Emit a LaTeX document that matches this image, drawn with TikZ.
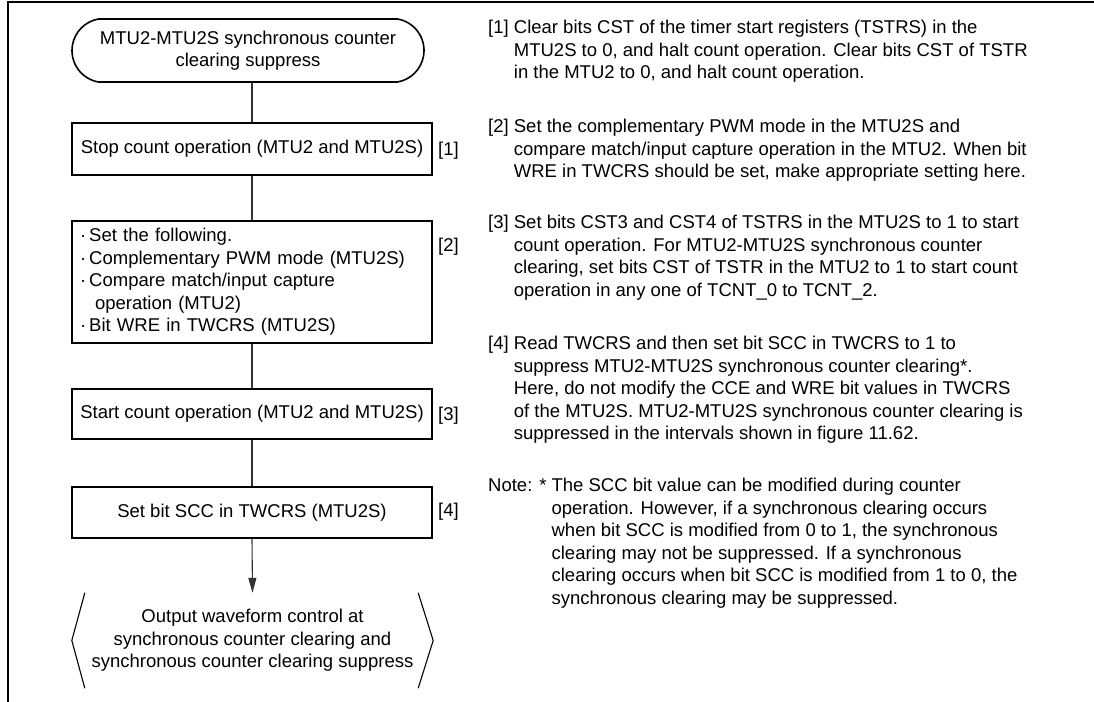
\documentclass[tikz,border=0pt]{standalone}
\usepackage{fontspec}
\setmainfont{Liberation Sans}
\usetikzlibrary{arrows.meta,shapes.misc}
\newcommand{\txtfont}{\fontsize{18.5pt}{22.5pt}\selectfont}
\begin{document}
\begin{tikzpicture}[x=1pt,y=-1pt,
  every node/.style={font=\txtfont, inner sep=0pt, text=black},
  flowbox/.style={draw, line width=1.6pt, minimum width=360pt},
  terminal/.style={draw, line width=1.6pt, rounded rectangle, rounded rectangle arc length=160, minimum width=352pt, minimum height=63pt, align=center},
  outbox/.style={minimum width=361pt, minimum height=95pt, align=center},
  conn/.style={draw=black!80, line width=1.1pt},
  steplabel/.style={anchor=west},
  rtext/.style={anchor=base west},
  frameline/.style={line width=2.4pt, line cap=rect}
]
\useasboundingbox (0,0) rectangle (1094,701);
\draw[frameline] (8,701) -- (8,2) -- (1094,2);

% flowchart nodes
\node[terminal] (start) at (248,50.5) {MTU2-MTU2S synchronous counter\\clearing suppress};
\node[flowbox, minimum height=52pt] (b1) at (252,149) {Stop count operation (MTU2 and MTU2S)};
\node[flowbox, minimum height=122pt, text width=344pt, align=left, inner xsep=8pt] (b2) at (252,282)
  {·\,Set the following.\\
   ·\,Complementary PWM mode (MTU2S)\\
   ·\,Compare match/input capture\\
   \hspace*{15pt}operation (MTU2)\\
   ·\,Bit WRE in TWCRS (MTU2S)};
\node[flowbox, minimum height=50pt] (b3) at (252,414) {Start count operation (MTU2 and MTU2S)};
\node[flowbox, minimum height=51pt] (b4) at (252,512.5) {Set bit SCC in TWCRS (MTU2S)};
\node[outbox] (out) at (252.5,640.5) {Output waveform control at\\synchronous counter clearing and\\synchronous counter clearing suppress};
\draw[line width=1.1pt] ([xshift=13pt]out.north west) -- (out.west) -- ([xshift=13pt]out.south west);
\draw[line width=1.1pt] ([xshift=-15pt]out.north east) -- (out.east) -- ([xshift=-15pt]out.south east);

% step labels
\node[steplabel] (l1) at (438,151) {[1]};
\node[steplabel] (l2) at (438,247) {[2]};
\node[steplabel] (l3) at (438,416) {[3]};
\node[steplabel] (l4) at (438,512) {[4]};

% connectors
\draw[conn] (start.south -| b1.north) -- (b1.north);
\draw[conn] (b1.south) -- (b2.north);
\draw[conn] (b2.south) -- (b3.north);
\draw[conn] (b3.south) -- (b4.north);
\draw[conn, -{Triangle[width=8pt,length=15pt]}] (b4.south) -- (out.north);

% explanations
\node[rtext] (t1) at (488,34) {\begin{tabular}[t]{@{}l@{ }l@{}}
[1] & Clear bits CST of the timer start registers (TSTRS) in the\\
 & MTU2S to 0, and halt count operation. Clear bits CST of TSTR\\
 & in the MTU2 to 0, and halt count operation.
\end{tabular}};
\node[rtext] (t2) at (488,132.6) {\begin{tabular}[t]{@{}l@{ }l@{}}
[2] & Set the complementary PWM mode in the MTU2S and\\
 & compare match/input capture operation in the MTU2. When bit\\
 & WRE in TWCRS should be set, make appropriate setting here.
\end{tabular}};
\node[rtext] (t3) at (488,228.6) {\begin{tabular}[t]{@{}l@{ }l@{}}
[3] & Set bits CST3 and CST4 of TSTRS in the MTU2S to 1 to start\\
 & count operation. For MTU2-MTU2S synchronous counter\\
 & clearing, set bits CST of TSTR in the MTU2 to 1 to start count\\
 & operation in any one of TCNT\_0 to TCNT\_2.
\end{tabular}};
\node[rtext] (t4) at (488,349.6) {\begin{tabular}[t]{@{}l@{ }l@{}}
[4] & Read TWCRS and then set bit SCC in TWCRS to 1 to\\
 & suppress MTU2-MTU2S synchronous counter clearing*.\\
 & Here, do not modify the CCE and WRE bit values in TWCRS\\
 & of the MTU2S. MTU2-MTU2S synchronous counter clearing is\\
 & suppressed in the intervals shown in figure 11.62.
\end{tabular}};
\node[rtext] (tn) at (488,491.6) {\begin{tabular}[t]{@{}l@{ }l@{ }l@{}}
Note: & * & The SCC bit value can be modified during counter\\
 & & operation. However, if a synchronous clearing occurs\\
 & & when bit SCC is modified from 0 to 1, the synchronous\\
 & & clearing may not be suppressed. If a synchronous\\
 & & clearing occurs when bit SCC is modified from 1 to 0, the\\
 & & synchronous clearing may be suppressed.
\end{tabular}};
\end{tikzpicture}
\end{document}
